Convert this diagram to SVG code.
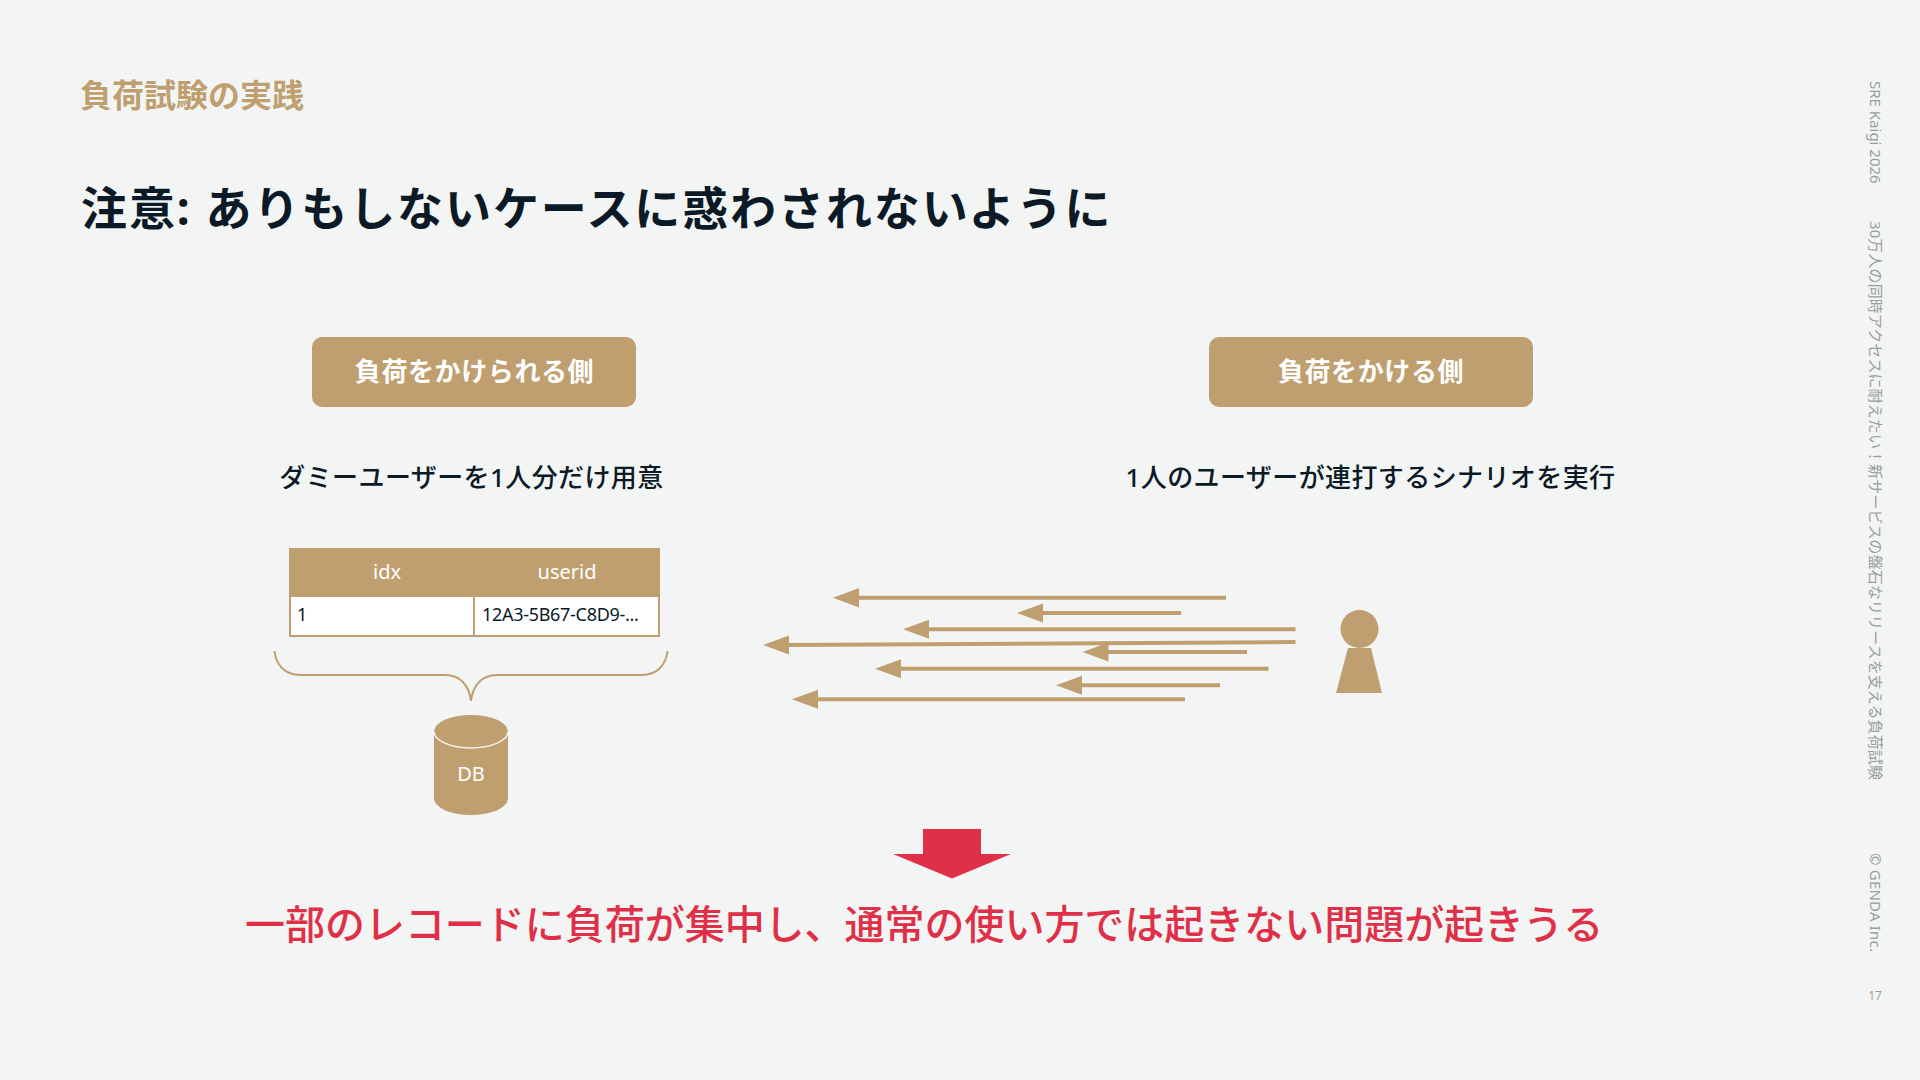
<svg xmlns="http://www.w3.org/2000/svg" width="1920" height="1080" viewBox="0 0 1920 1080">
<defs>
<style>
text{font-family:"Noto Sans","Noto Sans CJK JP",sans-serif}
.gold{fill:#bf9f6f}
.ln{stroke:#bf9f6f;stroke-width:4;fill:none}
.btn{fill:#fff;font-size:26px;font-weight:700;text-anchor:middle;letter-spacing:.6px}
.sub{fill:#0b1a26;font-size:26px;font-weight:500;text-anchor:middle;letter-spacing:.4px}
.th{fill:#fff;font-size:20px;text-anchor:middle}
.td{fill:#0b1a26;font-size:18px}
.side{fill:#9a9d9e;font-size:15px}
</style>
</defs>
<rect width="1920" height="1080" fill="#f3f5f4"/>
<g id="heading">
<text x="80" y="107" font-size="32" font-weight="700" style="fill:#bf9f6f">負荷試験の実践</text>
<text x="81" y="225" font-size="46" font-weight="700" fill="#0b1a26" letter-spacing="1.9">注意: ありもしないケースに惑わされないように</text>
</g>
<g id="node-left-label">
<rect x="312" y="337" width="324" height="70" rx="10" class="gold"/>
<text x="474.500" y="381" class="btn">負荷をかけられる側</text>
</g>
<g id="node-right-label">
<rect x="1209" y="337" width="324" height="70" rx="10" class="gold"/>
<text x="1371" y="381" class="btn">負荷をかける側</text>
</g>
<g id="node-left-desc"><text x="471.500" y="487" class="sub">ダミーユーザーを1人分だけ用意</text></g>
<g id="node-right-desc"><text x="1370.500" y="487" class="sub">1人のユーザーが連打するシナリオを実行</text></g>
<g id="node-table">
<rect x="290" y="596" width="369" height="40" fill="#fff" stroke="#bf9f6f" stroke-width="2"/>
<rect x="289" y="548" width="371" height="47" class="gold"/>
<line x1="474" y1="595" x2="474" y2="636" stroke="#bf9f6f" stroke-width="2"/>
<text x="387" y="579" class="th">idx</text>
<text x="567" y="579" class="th">userid</text>
<text x="297" y="621" class="td">1</text>
<text x="482" y="621" class="td" letter-spacing="-0.3">12A3-5B67-C8D9-...</text>
</g>
<g id="node-brace"><path d="M274.500 651C276 665 285 675 300 675H445C460 675 469 685 471 701C473 685 482 675 497 675H642C657 675 666 665 667.500 651" fill="none" stroke="#bf9f6f" stroke-width="2"/></g>
<g id="node-db">
<path d="M434 731.500A37 16.500 0 0 1 508 731.500V798.500A37 16.500 0 0 1 434 798.500Z" class="gold"/>
<path d="M434 731.500A37 16.500 0 0 0 508 731.500" fill="none" stroke="#f3f5f4" stroke-width="1.500"/>
<text x="471" y="781" fill="#fff" font-size="20" text-anchor="middle">DB</text>
</g>
<g id="node-person">
<ellipse cx="1359.500" cy="629" rx="19" ry="19" class="gold"/>
<path d="M1348 648H1371L1382 693H1336Z" class="gold"/>
</g>
<g id="connectors">
<g class="ln">
<path d="M1226 597.700H855"/>
<path d="M1181 613H1039"/>
<path d="M1295.500 629.300H925"/>
<path d="M1295.500 642L785 645"/>
<path d="M1247 652H1104"/>
<path d="M1268.500 668.700H897"/>
<path d="M1220 685.300H1078"/>
<path d="M1185 699.300H814"/>
</g>
<g class="gold">
<path d="M833 597.700L859 588V607.500Z"/>
<path d="M1017 613L1043 603.500V622.500Z"/>
<path d="M903 629.300L929 619.800V638.800Z"/>
<path d="M763 645L789 635.500V654.500Z"/>
<path d="M1082.500 652L1108.500 642.500V661.500Z"/>
<path d="M875 668.700L901 659.200V678.200Z"/>
<path d="M1056 685.300L1082 675.800V694.800Z"/>
<path d="M792 699.300L818 689.800V708.800Z"/>
</g>
</g>
<g id="node-result-arrow"><path d="M923 829H981V854H1011L952 878.500L893 854H923Z" fill="#e03047"/></g>
<g id="node-result"><text x="245" y="939" font-size="40" font-weight="500" fill="#e03047" letter-spacing="-0.03">一部のレコードに負荷が集中し、通常の使い方では起きない問題が起きうる</text></g>
<g id="sidebar">
<text class="side" transform="translate(1870 81) rotate(90)">SRE Kaigi 2026</text>
<text class="side" transform="translate(1870 221) rotate(90)" letter-spacing="0.1">30万人の同時アクセスに耐えたい！新サービスの盤石なリリースを支える負荷試験</text>
<text class="side" transform="translate(1870 853) rotate(90)" letter-spacing="0.2">© GENDA Inc.</text>
<text x="1875" y="1000" fill="#9a9d9e" font-size="12" text-anchor="middle">17</text>
</g>
</svg>
